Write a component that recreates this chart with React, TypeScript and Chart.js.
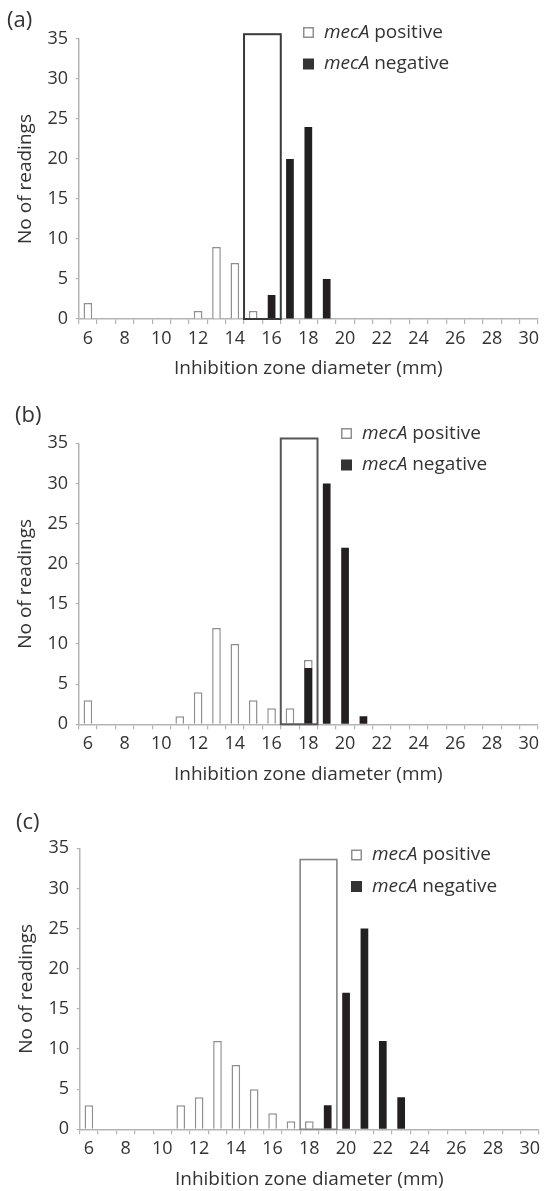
import React, { useEffect, useRef } from "react";
import { Chart, registerables } from "chart.js";

Chart.register(...registerables);

// ---------- data ----------
const categories = [6, 7, 8, 9, 10, 11, 12, 13, 14, 15, 16, 17, 18, 19, 20, 21, 22, 23, 24, 25, 26, 27, 28, 29, 30];
const xTickLabels = ["6", "8", "10", "12", "14", "16", "18", "20", "22", "24", "26", "28", "30"];
const yTicks = [0, 5, 10, 15, 20, 25, 30, 35];

const gene = "mecA";
const seriesNames = ["positive", "negative"];

//                 6  7  8  9 10 11 12 13  14 15  16  17  18  19  20 21 22 23 24 25 26 27 28 29 30
const positiveA = [2, 0, 0, 0, 0, 0, 1, 9, 7, 1, 0, 0, 0, 0, 0, 0, 0, 0, 0, 0, 0, 0, 0, 0, 0];
const negativeA = [0, 0, 0, 0, 0, 0, 0, 0, 0, 0, 3, 20, 24, 5, 0, 0, 0, 0, 0, 0, 0, 0, 0, 0, 0];
const positiveB = [3, 0, 0, 0, 0, 1, 4, 12, 10, 3, 2, 2, 8, 0, 0, 0, 0, 0, 0, 0, 0, 0, 0, 0, 0];
const negativeB = [0, 0, 0, 0, 0, 0, 0, 0, 0, 0, 0, 0, 7, 30, 22, 1, 0, 0, 0, 0, 0, 0, 0, 0, 0];
const positiveC = [3, 0, 0, 0, 0, 3, 4, 11, 8, 5, 2, 1, 1, 0, 0, 0, 0, 0, 0, 0, 0, 0, 0, 0, 0];
const negativeC = [0, 0, 0, 0, 0, 0, 0, 0, 0, 0, 0, 0, 0, 3, 17, 25, 11, 4, 0, 0, 0, 0, 0, 0, 0];

// area of uncertainty box: first and last category covered, and its height
const boxRangeA = [15, 16];
const boxRangeB = [17, 18];
const boxRangeC = [18, 19];
const boxTopA = 35.6;
const boxTopB = 35.6;
const boxTopC = 33.6;

// ---------- styles / layout ----------
const FONT = '"Open Sans", "DejaVu Sans", sans-serif';
const TEXT = "#333333";
const AXIS = "#b4b4b4";
const POS_BORDER = "#8f8f8f";
const NEG_FILL = "#231f20";

type Panel = {
  letter: string;
  positive: number[];
  negative: number[];
  boxRange: number[];
  boxTop: number;
  boxColor: string;
  boxWidth: number;
  top: number;
  height: number;
  chartTop: number;
  chartBottom: number;
  chartLeft: number;
  letterX: number;
  letterY: number;
  legendX: number;
  legendY: number;
};

const W = 548;
const CAT_W = 18.37;

const panels: Panel[] = [
  {
    letter: "(a)", positive: positiveA, negative: negativeA, boxRange: boxRangeA, boxTop: boxTopA,
    boxColor: "#3a3a3a", boxWidth: 2,
    top: 0, height: 390, chartTop: 39, chartBottom: 319, chartLeft: 78.7,
    letterX: 7, letterY: 21, legendX: 303, legendY: 32.5,
  },
  {
    letter: "(b)", positive: positiveB, negative: negativeB, boxRange: boxRangeB, boxTop: boxTopB,
    boxColor: "#555555", boxWidth: 2,
    top: 390, height: 400, chartTop: 53.3, chartBottom: 334.3, chartLeft: 78.7,
    letterX: 15, letterY: 26, legendX: 341, legendY: 43.5,
  },
  {
    letter: "(c)", positive: positiveC, negative: negativeC, boxRange: boxRangeC, boxTop: boxTopC,
    boxColor: "#858585", boxWidth: 1.6,
    top: 790, height: 401, chartTop: 58.3, chartBottom: 339.3, chartLeft: 79.7,
    letterX: 16, letterY: 32.5, legendX: 351, legendY: 65,
  },
];

const TICK_FONT = 18;
const TITLE_FONT = 19;
const LEGEND_FONT = 19;

function makeOverlay(p: Panel) {
  return {
    id: "overlay" + p.letter,
    afterDatasetsDraw(chart: any) {
      const { ctx } = chart;
      const x = chart.scales.x;
      const y = chart.scales.y;
      const i0 = categories.indexOf(p.boxRange[0]) - 0.5;
      const i1 = categories.indexOf(p.boxRange[1]) + 0.5;
      const left = x.getPixelForValue(i0);
      const right = x.getPixelForValue(i1);
      const top = y.getPixelForValue(p.boxTop);
      const bottom = y.getPixelForValue(0);
      ctx.save();
      ctx.strokeStyle = p.boxColor;
      ctx.lineWidth = p.boxWidth;
      ctx.strokeRect(left, top, right - left, bottom - top);
      ctx.restore();
    },
    afterDraw(chart: any) {
      const { ctx } = chart;
      ctx.save();
      ctx.fillStyle = TEXT;
      ctx.textBaseline = "middle";
      ctx.textAlign = "left";
      ctx.font = `22px ${FONT}`;
      ctx.fillText(p.letter, p.letterX, p.letterY);
      const gap = 31.5;
      const sq = 11;
      chart.data.datasets.forEach((ds: any, i: number) => {
        const cy = p.legendY + i * gap;
        if (ds.backgroundColor === "#ffffff") {
          ctx.fillStyle = "#ffffff";
          ctx.fillRect(p.legendX, cy - sq / 2, sq, sq);
          ctx.strokeStyle = POS_BORDER;
          ctx.lineWidth = 1.5;
          ctx.strokeRect(p.legendX + 0.75, cy - sq / 2 + 0.75, sq - 1.5, sq - 1.5);
        } else {
          ctx.fillStyle = "#333333";
          ctx.fillRect(p.legendX, cy - sq / 2, sq, sq);
        }
        ctx.fillStyle = TEXT;
        const tx = p.legendX + 21;
        ctx.font = `italic ${LEGEND_FONT}px ${FONT}`;
        ctx.fillText(gene, tx, cy);
        const w = ctx.measureText(gene).width;
        ctx.font = `${LEGEND_FONT}px ${FONT}`;
        ctx.fillText(" " + seriesNames[i], tx + w, cy);
      });
      ctx.restore();
    },
  };
}

function PanelChart({ p }: { p: Panel }) {
  const ref = useRef<HTMLCanvasElement | null>(null);
  useEffect(() => {
    if (!ref.current) return;
    const chartRight = p.chartLeft + CAT_W * categories.length;
    const titleLH = TITLE_FONT * 1.2;
    const titleCenter = p.chartBottom + 50;
    const titlePadBottom = p.height - titleCenter - titleLH / 2;
    const toNull = (arr: number[]) => arr.map((v) => (v === 0 ? null : v));
    const chart = new Chart(ref.current, {
      type: "bar",
      data: {
        labels: categories.map(String),
        datasets: [
          {
            label: `${gene} ${seriesNames[0]}`,
            data: toNull(p.positive) as any,
            backgroundColor: "#ffffff",
            borderColor: POS_BORDER,
            borderWidth: 1.5,
            borderSkipped: "bottom",
            barPercentage: 0.47,
            categoryPercentage: 1,
            grouped: false,
            order: 2,
          },
          {
            label: `${gene} ${seriesNames[1]}`,
            data: toNull(p.negative) as any,
            backgroundColor: NEG_FILL,
            borderWidth: 0,
            barPercentage: 0.42,
            categoryPercentage: 1,
            grouped: false,
            order: 1,
          },
        ],
      },
      options: {
        responsive: false,
        animation: false,
        events: [],
        layout: { padding: { left: 0, right: W - chartRight, top: p.chartTop, bottom: 0 } },
        plugins: { legend: { display: false }, tooltip: { enabled: false }, title: { display: false } },
        scales: {
          x: {
            type: "category",
            offset: true,
            grid: { offset: true, drawOnChartArea: false, drawTicks: true, tickLength: 5, color: AXIS, lineWidth: 1.2 },
            border: { display: true, color: AXIS, width: 1.5 },
            ticks: {
              autoSkip: false,
              maxRotation: 0,
              minRotation: 0,
              padding: 4.2,
              color: TEXT,
              font: { family: FONT, size: TICK_FONT },
              callback: (_v: any, i: number) => {
                const s = String(categories[i]);
                return xTickLabels.includes(s) ? s : "";
              },
            },
            title: {
              display: true,
              text: "Inhibition zone diameter (mm)",
              color: TEXT,
              font: { family: FONT, size: TITLE_FONT },
              padding: { top: 0, bottom: titlePadBottom },
            },
            afterFit: (s: any) => {
              s.height = p.height - p.chartBottom;
            },
          } as any,
          y: {
            min: 0,
            max: 35,
            afterBuildTicks: (s: any) => {
              s.ticks = yTicks.map((v) => ({ value: v }));
            },
            ticks: { padding: 7.7, color: TEXT, font: { family: FONT, size: TICK_FONT } },
            grid: { drawOnChartArea: false, drawTicks: true, tickLength: 3, color: AXIS, lineWidth: 1.2 },
            border: { display: true, color: AXIS, width: 1.5 },
            title: {
              display: true,
              text: "No of readings",
              color: TEXT,
              font: { family: FONT, size: TITLE_FONT },
              padding: { top: p.letter === "(c)" ? 15.3 : 14.1, bottom: 0 },
            },
            afterFit: (s: any) => {
              s.width = p.chartLeft;
            },
          } as any,
        },
      },
      plugins: [makeOverlay(p)],
    });
    return () => chart.destroy();
  }, [p]);
  return (
    <canvas
      ref={ref}
      width={W}
      height={p.height}
      style={{ position: "absolute", left: 0, top: p.top, width: W, height: p.height }}
    />
  );
}

export default function App() {
  return (
    <div style={{ position: "absolute", left: 0, top: 0, width: W, height: 1191, background: "#ffffff" }}>
      {panels.map((p) => (
        <PanelChart key={p.letter} p={p} />
      ))}
    </div>
  );
}
